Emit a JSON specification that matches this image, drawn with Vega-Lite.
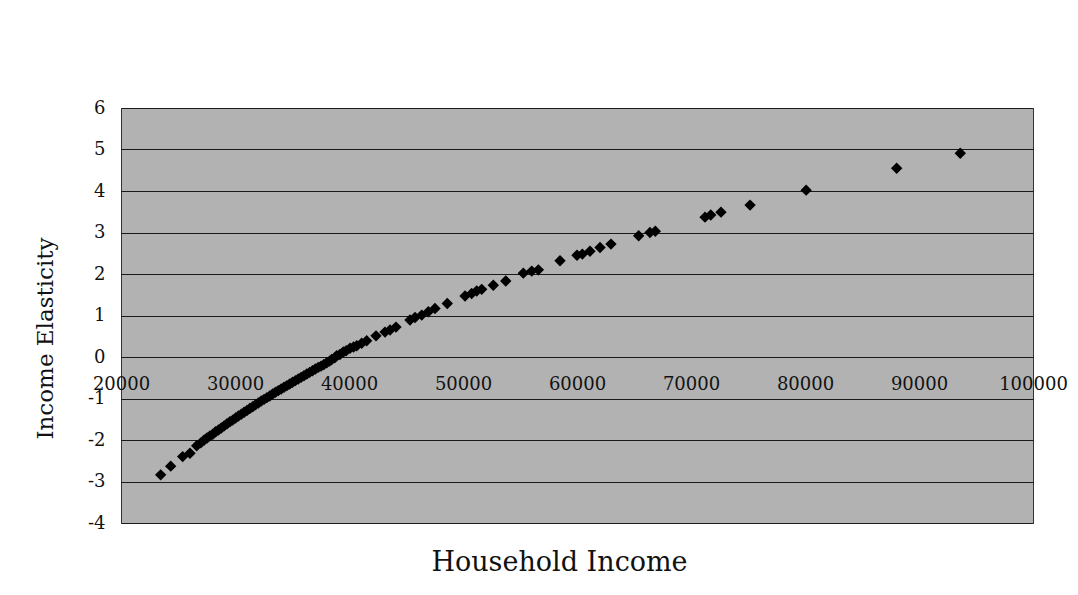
{
  "$schema": "https://vega.github.io/schema/vega-lite/v6.json",
  "autosize": {"type": "none"},
  "width": 912,
  "height": 415,
  "padding": {"left": 121, "top": 108, "right": 45, "bottom": 72},
  "background": "white",
  "config": {
    "view": {"fill": "#b2b2b2", "stroke": "#333333", "strokeWidth": 1},
    "font": "DejaVu Serif"
  },
  "data": {
    "values": [
      {"income": 23480, "elasticity": -2.84},
      {"income": 24360, "elasticity": -2.63},
      {"income": 25410, "elasticity": -2.40},
      {"income": 26050, "elasticity": -2.32},
      {"income": 26640, "elasticity": -2.14},
      {"income": 27000, "elasticity": -2.07},
      {"income": 27300, "elasticity": -2.00},
      {"income": 27550, "elasticity": -1.95},
      {"income": 27800, "elasticity": -1.90},
      {"income": 28050, "elasticity": -1.86},
      {"income": 28300, "elasticity": -1.80},
      {"income": 28550, "elasticity": -1.76},
      {"income": 28800, "elasticity": -1.71},
      {"income": 29050, "elasticity": -1.66},
      {"income": 29300, "elasticity": -1.61},
      {"income": 29550, "elasticity": -1.56},
      {"income": 29800, "elasticity": -1.52},
      {"income": 30050, "elasticity": -1.47},
      {"income": 30300, "elasticity": -1.42},
      {"income": 30550, "elasticity": -1.38},
      {"income": 30800, "elasticity": -1.33},
      {"income": 31050, "elasticity": -1.29},
      {"income": 31300, "elasticity": -1.24},
      {"income": 31550, "elasticity": -1.20},
      {"income": 31800, "elasticity": -1.15},
      {"income": 32050, "elasticity": -1.11},
      {"income": 32300, "elasticity": -1.06},
      {"income": 32550, "elasticity": -1.02},
      {"income": 32800, "elasticity": -0.98},
      {"income": 33050, "elasticity": -0.94},
      {"income": 33300, "elasticity": -0.89},
      {"income": 33550, "elasticity": -0.85},
      {"income": 33800, "elasticity": -0.81},
      {"income": 34050, "elasticity": -0.77},
      {"income": 34300, "elasticity": -0.73},
      {"income": 34550, "elasticity": -0.69},
      {"income": 34800, "elasticity": -0.65},
      {"income": 35050, "elasticity": -0.61},
      {"income": 35300, "elasticity": -0.57},
      {"income": 35550, "elasticity": -0.53},
      {"income": 35800, "elasticity": -0.49},
      {"income": 36050, "elasticity": -0.45},
      {"income": 36300, "elasticity": -0.41},
      {"income": 36550, "elasticity": -0.37},
      {"income": 36800, "elasticity": -0.33},
      {"income": 37050, "elasticity": -0.29},
      {"income": 37300, "elasticity": -0.25},
      {"income": 37550, "elasticity": -0.22},
      {"income": 37800, "elasticity": -0.18},
      {"income": 38050, "elasticity": -0.14},
      {"income": 38300, "elasticity": -0.10},
      {"income": 38480, "elasticity": -0.06},
      {"income": 38750, "elasticity": -0.02},
      {"income": 38920, "elasticity": 0.03},
      {"income": 39200, "elasticity": 0.06},
      {"income": 39500, "elasticity": 0.12},
      {"income": 39750, "elasticity": 0.15},
      {"income": 40090, "elasticity": 0.21},
      {"income": 40400, "elasticity": 0.24},
      {"income": 40680, "elasticity": 0.27},
      {"income": 41110, "elasticity": 0.33},
      {"income": 41550, "elasticity": 0.39},
      {"income": 42370, "elasticity": 0.51},
      {"income": 43160, "elasticity": 0.60},
      {"income": 43600, "elasticity": 0.65},
      {"income": 44120, "elasticity": 0.72},
      {"income": 45350, "elasticity": 0.89},
      {"income": 45790, "elasticity": 0.95},
      {"income": 46380, "elasticity": 1.01},
      {"income": 46960, "elasticity": 1.09},
      {"income": 47540, "elasticity": 1.17},
      {"income": 48620, "elasticity": 1.29},
      {"income": 50180, "elasticity": 1.47},
      {"income": 50760, "elasticity": 1.53},
      {"income": 51200, "elasticity": 1.59},
      {"income": 51640, "elasticity": 1.63},
      {"income": 52660, "elasticity": 1.73},
      {"income": 53750, "elasticity": 1.83},
      {"income": 55290, "elasticity": 2.02},
      {"income": 56030, "elasticity": 2.07},
      {"income": 56610, "elasticity": 2.10},
      {"income": 58510, "elasticity": 2.32},
      {"income": 60000, "elasticity": 2.45},
      {"income": 60470, "elasticity": 2.48},
      {"income": 61140, "elasticity": 2.55},
      {"income": 62020, "elasticity": 2.64},
      {"income": 62980, "elasticity": 2.72},
      {"income": 65410, "elasticity": 2.92},
      {"income": 66400, "elasticity": 3.00},
      {"income": 66870, "elasticity": 3.03},
      {"income": 71230, "elasticity": 3.37},
      {"income": 71730, "elasticity": 3.42},
      {"income": 72630, "elasticity": 3.49},
      {"income": 75180, "elasticity": 3.66},
      {"income": 80100, "elasticity": 4.02},
      {"income": 88040, "elasticity": 4.55},
      {"income": 93620, "elasticity": 4.91}
    ]
  },
  "mark": {"type": "point", "shape": "diamond", "filled": true, "color": "black", "opacity": 1, "size": 130},
  "encoding": {
    "x": {
      "field": "income",
      "type": "quantitative",
      "scale": {"domain": [20000, 100000], "nice": false, "zero": false},
      "axis": {
        "title": "Household Income",
        "values": [20000, 30000, 40000, 50000, 60000, 70000, 80000, 90000, 100000],
        "format": "d",
        "offset": -166,
        "domain": false,
        "ticks": false,
        "grid": false,
        "labelFont": "DejaVu Serif",
        "labelFontSize": 18,
        "labelColor": "#111111",
        "labelPadding": 18,
        "labelDx": -6,
        "labelFlush": false,
        "labelOverlap": false,
        "titleFont": "DejaVu Serif",
        "titleFontSize": 27,
        "titleFontWeight": "normal",
        "titleColor": "#111111",
        "titleX": 438,
        "titleY": 205,
        "titleBaseline": "middle"
      }
    },
    "y": {
      "field": "elasticity",
      "type": "quantitative",
      "scale": {"domain": [-4, 6], "nice": false, "zero": false},
      "axis": {
        "title": "Income Elasticity",
        "values": [-4, -3, -2, -1, 0, 1, 2, 3, 4, 5, 6],
        "labelExpr": "datum.value < 0 ? '-' + abs(datum.value) : '' + datum.value",
        "domain": false,
        "ticks": false,
        "grid": true,
        "gridColor": "#1a1a1a",
        "gridWidth": 1,
        "gridOpacity": 1,
        "labelFont": "DejaVu Serif",
        "labelFontSize": 18,
        "labelColor": "#111111",
        "labelPadding": 16,
        "labelFlush": false,
        "labelOverlap": false,
        "titleFont": "DejaVu Serif",
        "titleFontSize": 23,
        "titleFontWeight": "normal",
        "titleColor": "#111111",
        "titleAngle": -90,
        "titleX": -76,
        "titleY": 230,
        "titleBaseline": "middle",
        "titleAlign": "center"
      }
    }
  }
}
